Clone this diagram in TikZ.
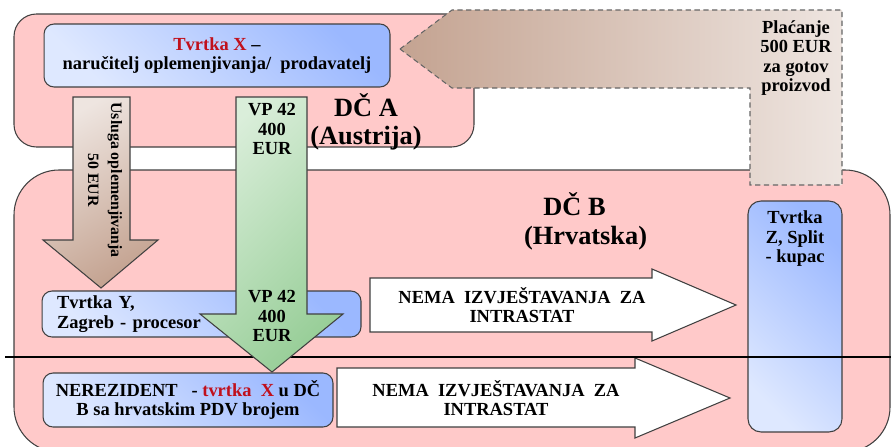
\documentclass[tikz,border=0pt]{standalone}
\usepackage{fontspec}
\setmainfont{Liberation Serif}
\usetikzlibrary{positioning}
\definecolor{zemlja}{HTML}{FFC9C9}
\definecolor{plavaSv}{HTML}{DEE8FF}
\definecolor{plavaTm}{HTML}{9BB8FF}
\definecolor{zelenaSv}{HTML}{DAEEDA}
\definecolor{zelenaTm}{HTML}{98CE98}
\definecolor{smedjaSv}{HTML}{EEE5E0}
\definecolor{smedjaTm}{HTML}{C4A391}
\definecolor{crvena}{HTML}{C0101C}
\definecolor{rub}{HTML}{404040}
\tikzset{
	drzava/.style={draw=rub, line width=0.6pt, fill=zemlja},
	tvrtka/.style={draw=rub, line width=0.6pt, rounded corners=0.2cm, top color=plavaTm, bottom color=plavaSv, shading angle=-45, inner sep=0pt, align=center},
	strelica/.style={draw=rub, line width=0.6pt},
	tekst/.style={align=center, inner sep=1pt},
	veliki/.style={font=\bfseries\fontsize{15}{16}\selectfont}
}
\def\crveno#1{\textcolor{crvena}{#1}}

\begin{document}
\begin{tikzpicture}[x=0.02cm, y=-0.02cm, font=\bfseries\fontsize{10.5}{11}\selectfont]
	\clip (0,0) rectangle (891,446);

	\draw[drzava, rounded corners=0.45cm] (14,14) rectangle (474,147);
	\draw[drzava, rounded corners=0.9cm] (14,170) rectangle (890,452);

	\draw[strelica, densely dashed, draw=black!60, left color=smedjaTm, right color=smedjaSv] (400,49) -- (452,10) -- (842,10) -- (842,185) -- (750,185) -- (750,88) -- (452,88) -- cycle;
	\node[tekst] (placanje) at (796,58) {Plaćanje\\500 EUR\\za gotov\\proizvod};

	\node[tvrtka, minimum width=6.92cm, minimum height=1.26cm] (tvrtkaX) at (217,55.5) {\crveno{Tvrtka X} --\\naručitelj oplemenjivanja/~~prodavatelj};
	\node[tvrtka, minimum width=6.38cm, minimum height=0.92cm, align=left, text width=5.78cm, inner xsep=0.3cm] (tvrtkaY) at (201.5,314) {Tvrtka Y,\\Zagreb - procesor};
	\node[tvrtka, minimum width=5.8cm, minimum height=1.08cm] (nerezident) at (188,400) {NEREZIDENT~~~- \crveno{tvrtka~~X} u DČ\\B sa hrvatskim PDV brojem};
	\node[tvrtka, rounded corners=0.26cm, minimum width=1.88cm, minimum height=4.62cm] (tvrtkaZ) at (795,316.5) {};
	\node[tekst, below=0.17cm of tvrtkaZ.north] (tvrtkaZtekst) {Tvrtka\\Z, Split\\- kupac};

	\draw[strelica, fill=white] (370,278) -- (652,278) -- (652,269) -- (736,305) -- (652,341) -- (652,332) -- (370,332) -- cycle;
	\node[tekst] (nemaGore) at (522,305) {NEMA~~IZVJEŠTAVANJA~~ZA\\INTRASTAT};
	\draw[strelica, fill=white] (337,368) -- (635,368) -- (635,358) -- (730,398) -- (635,438) -- (635,427) -- (337,427) -- cycle;
	\node[tekst] (nemaDolje) at (496,398) {NEMA~~IZVJEŠTAVANJA~~ZA\\INTRASTAT};

	\draw[line width=1.6pt] (5,357) -- (891,357);

	\draw[strelica, top color=smedjaSv, bottom color=smedjaTm, shading angle=30] (73,97) -- (130,97) -- (130,240) -- (158,240) -- (101,288) -- (43,240) -- (73,240) -- cycle;
	\node[tekst, rotate=-90, font=\bfseries\fontsize{9}{13}\selectfont] (usluga) at (105,180) {Usluga oplemenjivanja\\50 EUR};

	\draw[strelica, top color=zelenaSv, bottom color=zelenaTm, shading angle=45] (236,97) -- (307,97) -- (307,314) -- (343,314) -- (272,372) -- (200,314) -- (236,314) -- cycle;
	\node[tekst] (vpGore) at (272,129) {VP 42\\400\\EUR};
	\node[tekst] (vpDolje) at (272,316) {VP 42\\400\\EUR};

	\node[tekst, veliki] (dcA) at (366,122) {DČ A\\(Austrija)};
	\node[tekst, veliki, align=left, anchor=north west] (dcB) at (522,191) {\hspace*{11pt}DČ B\\(Hrvatska)};
\end{tikzpicture}
\end{document}
